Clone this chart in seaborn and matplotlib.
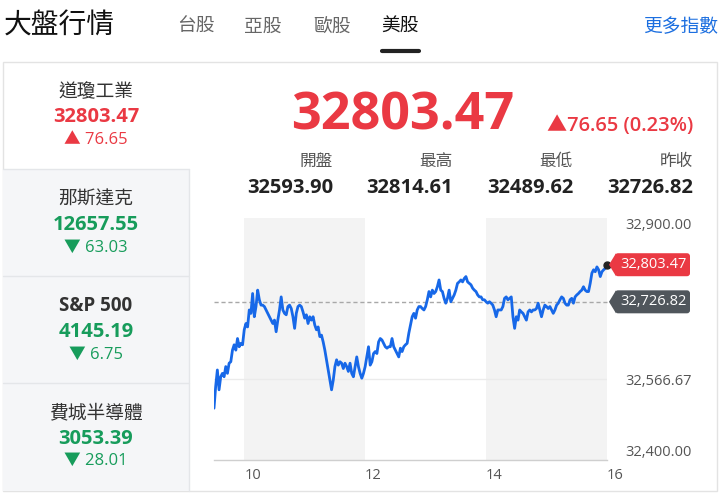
import pandas as pd
import matplotlib
matplotlib.use("Agg")
import matplotlib.pyplot as plt
import matplotlib.transforms as mtransforms
from matplotlib.patches import Rectangle, FancyBboxPatch, Polygon
import seaborn as sns

# --- data -------------------------------------------------------------------
TABS = ["台股", "亞股", "歐股", "美股"]
ACTIVE_TAB = "美股"

INDEX_NAMES = ["道瓊工業", "那斯達克", "S&P 500", "費城半導體"]
INDEX_VALUES = [32803.47, 12657.55, 4145.19, 3053.39]
INDEX_CHANGES = [76.65, -63.03, -6.75, -28.01]

LAST = 32803.47
CHANGE = 76.65
CHANGE_PCT = 0.23
STAT_LABELS = ["開盤", "最高", "最低", "昨收"]
STAT_VALUES = [32593.90, 32814.61, 32489.62, 32726.82]
PREV_CLOSE = 32726.82

Y_TICKS = [32400.00, 32566.67, 32900.00]
X_TICKS = [10, 12, 14, 16]
SHADED_HOURS = [(10, 12), (14, 16)]

# intraday readings, one every 100 s from 09:30 to 16:00
PRICES = [
    32507, 32552, 32586, 32545, 32572, 32579, 32572, 32593, 32579, 32600,
    32603, 32627, 32638, 32627, 32651, 32634, 32641, 32638, 32669, 32682,
    32675, 32710, 32703, 32744, 32696, 32717, 32751, 32731, 32720, 32720,
    32717, 32710, 32703, 32696, 32689, 32682, 32689, 32665, 32689, 32710,
    32737, 32710, 32703, 32700, 32717, 32720, 32713, 32696, 32672, 32703,
    32717, 32720, 32717, 32706, 32693, 32700, 32682, 32696, 32689, 32696,
    32679, 32669, 32675, 32655, 32658, 32644, 32627, 32607, 32586, 32565,
    32545, 32565, 32593, 32607, 32596, 32603, 32600, 32589, 32600, 32593,
    32583, 32600, 32579, 32572, 32593, 32613, 32593, 32579, 32569, 32579,
    32593, 32613, 32634, 32596, 32603, 32620, 32624, 32620, 32644, 32651,
    32648, 32641, 32634, 32631, 32634, 32634, 32651, 32634, 32627, 32620,
    32613, 32631, 32624, 32634, 32638, 32641, 32662, 32679, 32696, 32703,
    32693, 32710, 32717, 32717, 32713, 32710, 32717, 32731, 32748, 32737,
    32751, 32744, 32748, 32758, 32772, 32751, 32748, 32734, 32724, 32734,
    32751, 32727, 32734, 32741, 32751, 32765, 32768, 32772, 32768, 32775,
    32779, 32768, 32765, 32762, 32755, 32751, 32748, 32741, 32737, 32737,
    32731, 32731, 32727, 32724, 32727, 32724, 32720, 32710, 32696, 32710,
    32710, 32710, 32717, 32734, 32737, 32731, 32734, 32737, 32696, 32672,
    32696, 32689, 32710, 32706, 32703, 32696, 32689, 32706, 32710, 32706,
    32710, 32710, 32713, 32724, 32710, 32696, 32710, 32720, 32717, 32713,
    32717, 32710, 32703, 32710, 32720, 32724, 32731, 32737, 32734, 32724,
    32720, 32720, 32731, 32734, 32724, 32737, 32741, 32744, 32748, 32751,
    32758, 32751, 32748, 32748, 32765, 32786, 32793, 32789, 32799, 32793,
    32779, 32789, 32793, 32796, 32803.47,
]

RED = "#ea3943"
GREEN = "#179c5b"
BLUE_LINE = "#1768e8"
TAG_GREY = "#50565c"
TEXT_DARK = "#222222"
TEXT_MID = "#555555"

# --- setup ------------------------------------------------------------------
sns.set_theme(style="white")
plt.rcParams["font.family"] = ["Open Sans", "Noto Sans CJK TC", "DejaVu Sans"]

W, H = 720, 494
fig = plt.figure(figsize=(W / 100, H / 100), dpi=100, facecolor="white")
# pixel coordinates with origin at the top-left corner
PX = mtransforms.Affine2D().scale(1 / W, -1 / H).translate(0, 1) + fig.transFigure


def box(x0, y0, x1, y1, fc, ec="none", z=-5):
    fig.add_artist(Rectangle((x0, y0), x1 - x0, y1 - y0, transform=PX,
                             fc=fc, ec=ec, lw=1, zorder=z))


def hline(x0, x1, y, color="#e4e6e9", lw=1):
    fig.add_artist(plt.Line2D([x0, x1], [y, y], transform=PX, color=color,
                              lw=lw, zorder=-4))


# header
fig.text(4, 27, "大盤行情", transform=PX, fontsize=20, color="#111111",
         va="center", ha="left")
for name, cx in zip(TABS, [196, 263, 332, 400]):
    fig.text(cx, 27, name, transform=PX, fontsize=13.5, va="center", ha="center",
             color="#111111" if name == ACTIVE_TAB else "#666666")
hline(382, 419, 51.5, color="#222222", lw=3)
fig.text(718, 27, "更多指數", transform=PX, fontsize=13.5, color="#1c6fe0",
         va="center", ha="right")

# card + sidebar
box(3, 62, 717, 491, "white", ec="#e3e3e3", z=-6)
box(3, 169, 189, 491, "#f5f6f8")
hline(3, 189, 169)
hline(3, 189, 276)
hline(3, 189, 383)
fig.add_artist(plt.Line2D([189, 189], [169, 491], transform=PX,
                          color="#e4e6e9", lw=1, zorder=-4))

rows_y = [(92, 117, 140), (200, 225, 248), (306, 332, 355), (413, 439, 461)]
for name, val, chg, (y1, y2, y3) in zip(INDEX_NAMES, INDEX_VALUES,
                                        INDEX_CHANGES, rows_y):
    col = RED if chg > 0 else GREEN
    arrow = "▲" if chg > 0 else "▼"
    fig.text(96, y1, name, transform=PX, fontsize=13.5, color="#333333",
             ha="center", va="center",
             weight="bold" if name.isascii() else "normal")
    fig.text(96, y2, f"{val:.2f}", transform=PX, fontsize=14.5, color=col,
             ha="center", va="center", weight="bold")
    fig.text(96, y3, f"{arrow} {abs(chg):.2f}", transform=PX, fontsize=12,
             color=col, ha="center", va="center")

# main quote
fig.text(403, 116, f"{LAST:.2f}", transform=PX, fontsize=37.5, color=RED,
         weight="bold", ha="center", va="center")
fig.text(693, 126, f"▲{CHANGE:.2f} ({CHANGE_PCT:.2f}%)", transform=PX,
         fontsize=14.5, color=RED, weight="semibold", ha="right", va="center")
for lbl, val, xr in zip(STAT_LABELS, STAT_VALUES, [333, 453, 573, 693]):
    fig.text(xr, 162, lbl, transform=PX, fontsize=12, color=TEXT_MID,
             ha="right", va="center")
    fig.text(xr, 188, f"{val:.2f}", transform=PX, fontsize=14.5, color=TEXT_DARK,
             weight="bold", ha="right", va="center")

# --- intraday chart ---------------------------------------------------------
times = pd.timedelta_range("9h30min", periods=len(PRICES), freq="100s")
df = pd.DataFrame({"hour": times.total_seconds() / 3600, "price": PRICES})

ax = fig.add_axes([214 / W, 1 - 460 / H, 393 / W, 242 / H])
ax.set_facecolor("white")
for a, b in SHADED_HOURS:
    ax.axvspan(a, b, color="#f3f3f3", lw=0, zorder=0)
ax.axhline(Y_TICKS[1], color="#ebebeb", lw=1, zorder=1)
ax.axhline(PREV_CLOSE, color="#a8a8a8", lw=1, ls=(0, (3, 2)), zorder=2,
           clip_on=False)
sns.lineplot(data=df, x="hour", y="price", ax=ax, color=BLUE_LINE, lw=2.0,
             estimator=None, zorder=3)
ax.plot(df["hour"].iloc[-1], df["price"].iloc[-1], "o", color="#222222",
        ms=5, zorder=4, clip_on=False)

ax.set_xlim(9.5, 16)
ax.set_ylim(32400, 32900)
ax.set_xlabel("")
ax.set_ylabel("")
for s in ["top", "left", "right"]:
    ax.spines[s].set_visible(False)
ax.spines["bottom"].set_color("#cfcfcf")
ax.spines["bottom"].set_linewidth(1)

ax.set_xticks(X_TICKS)
ax.set_xticklabels([str(t) for t in X_TICKS], ha="left")
ax.yaxis.tick_right()
ax.set_yticks(Y_TICKS)
ax.set_yticklabels([f"{v:,.2f}" for v in Y_TICKS])
ax.tick_params(axis="x", length=0, pad=6, labelsize=10.5, labelcolor=TEXT_MID)
ax.tick_params(axis="y", length=0, pad=13, labelsize=10.5, labelcolor=TEXT_MID)
ylabels = ax.get_yticklabels()
ylabels[0].set_va("bottom")
ylabels[-1].set_va("top")


def tag(value, color):
    _, yd = ax.transData.transform((16, value))
    y = H - yd
    fig.add_artist(FancyBboxPatch((615, y - 11.5), 75, 23, transform=PX,
                                  boxstyle="round,pad=0,rounding_size=3",
                                  fc=color, ec="none", zorder=5))
    fig.add_artist(Polygon([(609, y), (616, y - 11.5), (616, y + 11.5)],
                           closed=True, transform=PX, fc=color, ec="none",
                           zorder=5))
    fig.text(620, y, f"{value:,.2f}", transform=PX, fontsize=10.5,
             color="white", ha="left", va="center", zorder=6)


tag(LAST, RED)
tag(PREV_CLOSE, TAG_GREY)

fig.savefig("out.png", dpi=100, facecolor="white")
